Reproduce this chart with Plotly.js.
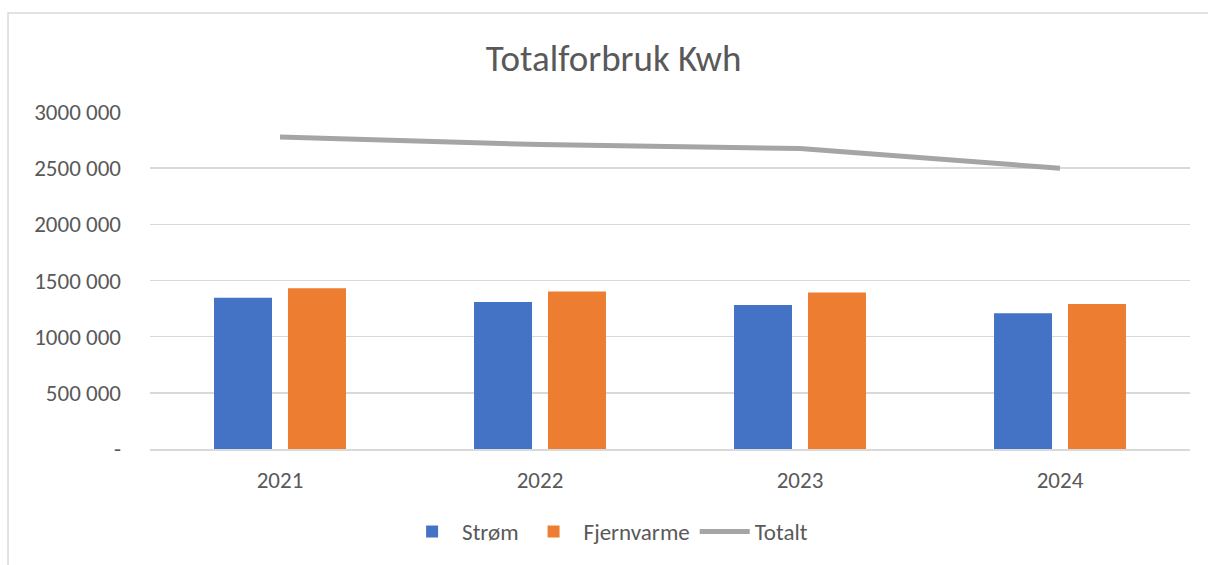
<!DOCTYPE html>
<html>
<head>
<meta charset="utf-8">
<script src="https://cdn.plot.ly/plotly-3.0.1.min.js"></script>
<style>html,body{margin:0;padding:0;background:#fff;}#chart{width:1208px;height:565px;}</style>
</head>
<body>
<div id="chart"></div>
<script>
const years = ["2021", "2022", "2023", "2024"];
const strom = [1346000, 1308000, 1282000, 1208000];
const fjernvarme = [1432000, 1402000, 1393000, 1291000];
const totalt = [2778000, 2710000, 2675000, 2499000];
const yTickVals = [0, 500000, 1000000, 1500000, 2000000, 2500000, 3000000];
const yTickText = ["-", "500 000", "1000 000", "1500 000", "2000 000", "2500 000", "3000 000"];

const fontFam = "Carlito, Calibri, 'Open Sans', 'Noto Sans', sans-serif";
const txt = "#595959";

const data = [
  {type: "bar", name: "Strøm", x: years, y: strom, marker: {color: "#4472c4"}},
  {type: "bar", name: "Fjernvarme", x: years, y: fjernvarme, marker: {color: "#ed7d31"}},
  {type: "scatter", mode: "lines", name: "Totalt", x: years, y: totalt, line: {color: "#a5a5a5", width: 5}}
];

const layout = {
  width: 1208, height: 565,
  margin: {l: 150, r: 18, t: 112, b: 113},
  paper_bgcolor: "#ffffff", plot_bgcolor: "#ffffff",
  font: {family: fontFam, color: txt, size: 23},
  title: {text: "Totalforbruk Kwh", font: {size: 37, color: txt, family: fontFam}, x: 0.508, xanchor: "center", y: 0.897, yanchor: "middle"},
  barmode: "group",
  bargap: 0.431,
  bargroupgap: 0.216,
  xaxis: {
    type: "category",
    showgrid: false,
    showline: true, linecolor: "#d9d9d9", linewidth: 1.5,
    ticks: "", ticklabelstandoff: 10,
    tickfont: {size: 23, color: txt}
  },
  yaxis: {
    range: [0, 3000000],
    tickvals: yTickVals, ticktext: yTickText,
    showgrid: true, gridcolor: "#d9d9d9", gridwidth: 1.5,
    zeroline: false, showline: false,
    ticks: "", ticklabelstandoff: 28,
    tickfont: {size: 23, color: txt}
  },
  legend: {
    orientation: "h", x: 0.44, xanchor: "center", y: -0.245, yanchor: "middle",
    font: {size: 23, color: txt}, itemwidth: 50, traceorder: "normal"
  },
  shapes: [
    {type: "rect", xref: "paper", yref: "paper", x0: -0.1365, x1: 1.1, y0: -0.5, y1: 1.294,
     line: {color: "#d9d9d9", width: 1.5}, fillcolor: "rgba(0,0,0,0)"}
  ],
  showlegend: true
};

Plotly.newPlot("chart", data, layout, {displayModeBar: false, staticPlot: true});
</script>
</body>
</html>
